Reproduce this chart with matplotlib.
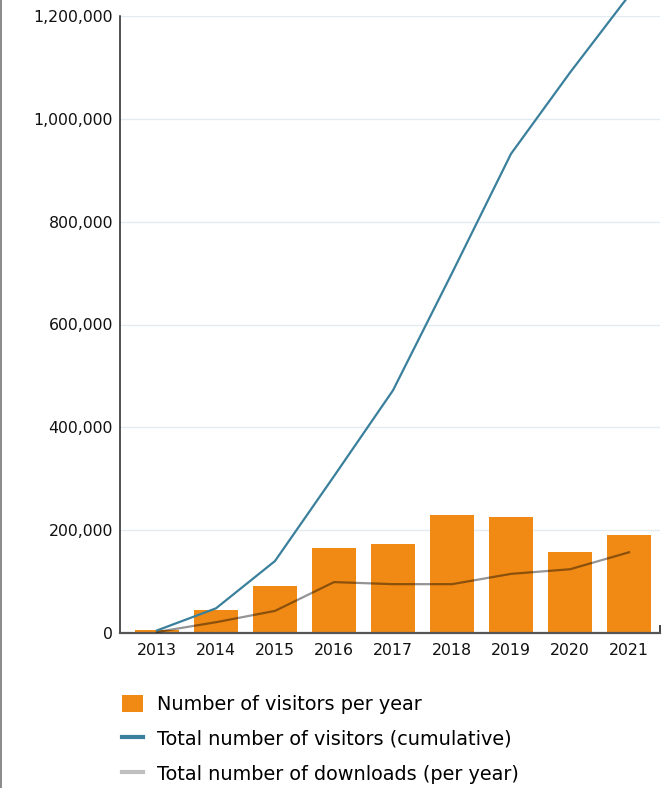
# visitors / downloads per year chart
import matplotlib
matplotlib.use("Agg")
from matplotlib import pyplot as plt
from matplotlib.lines import Line2D
from matplotlib.patches import Patch
from matplotlib.ticker import FuncFormatter

years = ["2013", "2014", "2015", "2016", "2017", "2018", "2019", "2020", "2021"]
visitors_per_year = [5000, 45000, 91000, 165000, 173000, 229000, 225000, 157000, 190000]
visitors_cumulative = [5000, 48000, 140000, 305000, 472000, 700000, 932000, 1090000, 1240000]
downloads_per_year = [2000, 21000, 43000, 99000, 95000, 95000, 115000, 124000, 157000]
y_ticks = [0, 200000, 400000, 600000, 800000, 1000000, 1200000]

ORANGE = "#F08A14"
BLUE = "#3A809C"
GREY = "#BFBFBF"

plt.rcParams['font.family'] = ['DejaVu Sans']

fig = plt.figure(figsize=(6.66, 7.88), dpi=100)
ax = fig.add_axes([120/666, 1-633/788, 540/666, 617/788])

x = list(range(len(years)))
ax.bar(x, visitors_per_year, width=0.75, color=ORANGE, zorder=2)
ax.plot(x, downloads_per_year, color="black", alpha=0.42, lw=1.6, zorder=3)
ax.plot(x, visitors_cumulative, color=BLUE, lw=1.6, zorder=4, clip_on=False)

ax.set_xlim(-0.627, 8.525)
ax.set_ylim(0, 1200000)
ax.set_yticks(y_ticks)
ax.yaxis.set_major_formatter(FuncFormatter(lambda v, p: f"{int(v):,}"))
ax.set_xticks(x)
ax.set_xticklabels(years)
ax.tick_params(axis="y", length=0, pad=5, labelsize=11.3, colors="#111111")
ax.tick_params(axis="x", length=0, pad=7, labelsize=11.3, colors="#111111")
# small end tick at the right end of the x axis
ax.set_xticks([8.525], minor=True)
ax.tick_params(axis="x", which="minor", direction="in", length=6, width=1.2, color="#222222")

ax.grid(axis="y", color="#E3EBF2", lw=1, zorder=0)
ax.set_axisbelow(True)
for s in ["top", "right"]:
    ax.spines[s].set_visible(False)
ax.spines["left"].set_color("#222222")
ax.spines["left"].set_linewidth(1.1)
ax.spines["bottom"].set_color("#555555")
ax.spines["bottom"].set_linewidth(1.6)

# left border line of the frame
fig.add_artist(Line2D([0.002, 0.002], [0, 1], color="#777777", lw=1.2))

handles = [
    Patch(facecolor=ORANGE, edgecolor="none"),
    Line2D([], [], color=BLUE, lw=3),
    Line2D([], [], color=GREY, lw=3),
]
labels = [
    "Number of visitors per year",
    "Total number of visitors (cumulative)",
    "Total number of downloads (per year)",
]
fig.legend(handles, labels, loc="upper left", bbox_to_anchor=(122/666, 1-695/788),
           frameon=False, fontsize=13.9, handlelength=1.1, handleheight=1.0,
           handletextpad=0.72, labelspacing=0.8, borderpad=0, borderaxespad=0)

fig.savefig("out.png", dpi=100)
